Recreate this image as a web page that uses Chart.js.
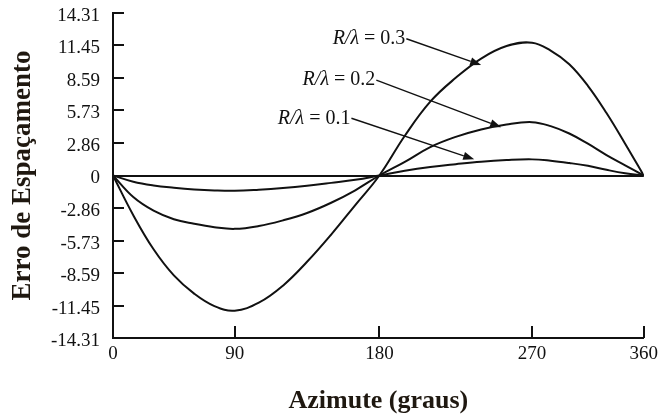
<!DOCTYPE html>
<html>
<head>
<meta charset="utf-8">
<script src="https://cdn.jsdelivr.net/npm/chart.js@4.4.1/dist/chart.umd.min.js"></script>
<style>
  html, body { margin: 0; padding: 0; background: #fff; }
  #wrap { width: 663px; height: 419px; }
</style>
</head>
<body>
<div id="wrap"><canvas id="errChart" width="663" height="419"></canvas></div>
<script>
// Azimuth samples (degrees) and spacing error
const azimuth = [0, 15, 30, 45, 60, 75, 90, 105, 120, 135, 150, 165, 180,
                 195, 210, 225, 240, 255, 270, 285, 300, 315, 330, 345, 360];
const errR03 = [0, -3.5, -6.5, -8.8, -10.4, -11.5, -11.9, -11.2, -9.7, -7.6, -5.2, -2.6, 0,
                3.5, 6.5, 8.6, 10.3, 11.4, 11.7, 11.0, 9.8, 7.9, 5.5, 2.8, 0];
const errR02 = [0, -1.9, -3.1, -3.85, -4.25, -4.55, -4.7, -4.45, -3.95, -3.3, -2.4, -1.3, 0,
                1.2, 2.5, 3.4, 4.05, 4.5, 4.7, 4.35, 3.7, 2.8, 1.8, 0.9, 0];
const errR01 = [0, -0.55, -0.88, -1.08, -1.23, -1.32, -1.35, -1.25, -1.1, -0.9, -0.65, -0.38, 0,
                0.42, 0.75, 1.0, 1.22, 1.36, 1.42, 1.3, 1.1, 0.85, 0.5, 0.2, 0];
const seriesNames = ['0.3', '0.2', '0.1'];

// Tick labels
const yTickLabels = ['-14.31', '-11.45', '-8.59', '-5.73', '-2.86', '0',
                     '2.86', '5.73', '8.59', '11.45', '14.31'];
const xTickLabels = ['0', '90', '180', '270', '360'];

// The scanned figure's x axis is not evenly spaced; where each tick sits (fraction of the axis)
const xTickFrac = [0, 0.2293, 0.5019, 0.7895, 1];

// Label / arrow placement, in data units: arrow start (end of text) and arrow tip
const callouts = [
    { from: [195.9, 12.04], to: [240, 9.73] },
    { from: [178.1, 8.4], to: [251.8, 4.25] },
    { from: [162.6, 5.04], to: [235.9, 1.42] }
];

const INK = '#111';
const TITLE_INK = '#1f1810';
const SERIF = '"Liberation Serif", "Times New Roman", serif';

const yTicks = yTickLabels.map(Number);
const xTicks = xTickLabels.map(Number);

// Linear scale with a piecewise mapping between the labelled ticks
class PiecewiseScale extends Chart.LinearScale {
    getPixelForValue(value) {
        if (value === null || isNaN(value)) return NaN;
        let i = 1;
        while (i < xTicks.length - 1 && value > xTicks[i]) i++;
        const v0 = xTicks[i - 1], v1 = xTicks[i];
        const f = xTickFrac[i - 1] + (value - v0) / (v1 - v0) * (xTickFrac[i] - xTickFrac[i - 1]);
        return this.getPixelForDecimal(f);
    }
    getValueForPixel(pixel) {
        const f = this.getDecimalForPixel(pixel);
        let i = 1;
        while (i < xTickFrac.length - 1 && f > xTickFrac[i]) i++;
        const f0 = xTickFrac[i - 1], f1 = xTickFrac[i];
        return xTicks[i - 1] + (f - f0) / (f1 - f0) * (xTicks[i] - xTicks[i - 1]);
    }
}
PiecewiseScale.id = 'piecewise';
PiecewiseScale.defaults = Chart.LinearScale.defaults;
Chart.register(PiecewiseScale);

function toPoints(values) {
    return azimuth.map((a, i) => ({ x: a, y: values[i] }));
}

// Inner tick marks, callout arrows and labels
const decorPlugin = {
    id: 'decor',
    afterDraw(chart) {
        const { ctx, chartArea, scales: { x, y } } = chart;
        ctx.save();
        ctx.strokeStyle = INK;
        ctx.lineWidth = 2;
        ctx.beginPath();
        yTicks.forEach(v => {
            const py = Math.round(y.getPixelForValue(v));
            ctx.moveTo(chartArea.left, py);
            ctx.lineTo(chartArea.left + 11, py);
        });
        xTicks.slice(1).forEach(v => {
            const px = Math.round(x.getPixelForValue(v));
            ctx.moveTo(px, chartArea.bottom);
            ctx.lineTo(px, chartArea.bottom - 12);
        });
        ctx.stroke();

        callouts.forEach((c, i) => {
            const x0 = x.getPixelForValue(c.from[0]), y0 = y.getPixelForValue(c.from[1]);
            const x1 = x.getPixelForValue(c.to[0]), y1 = y.getPixelForValue(c.to[1]);
            const ang = Math.atan2(y1 - y0, x1 - x0);
            const headLen = 11, headW = 4;
            const bx = x1 - headLen * Math.cos(ang), by = y1 - headLen * Math.sin(ang);

            ctx.lineWidth = 1.4;
            ctx.beginPath();
            ctx.moveTo(x0, y0);
            ctx.lineTo(bx, by);
            ctx.stroke();

            ctx.fillStyle = INK;
            ctx.beginPath();
            ctx.moveTo(x1, y1);
            ctx.lineTo(bx + headW * Math.sin(ang), by - headW * Math.cos(ang));
            ctx.lineTo(bx - headW * Math.sin(ang), by + headW * Math.cos(ang));
            ctx.closePath();
            ctx.fill();

            // "R/λ" in italics, then " = 0.x"
            ctx.textBaseline = 'middle';
            ctx.textAlign = 'left';
            const tail = ' = ' + seriesNames[i];
            ctx.font = '20px ' + SERIF;
            const tailW = ctx.measureText(tail).width;
            ctx.font = 'italic 20px ' + SERIF;
            const headTxtW = ctx.measureText('R/λ').width;
            const startX = x0 - 1 - tailW - headTxtW;
            ctx.fillText('R/λ', startX, y0);
            ctx.font = '20px ' + SERIF;
            ctx.fillText(tail, startX + headTxtW, y0);
        });
        ctx.restore();
    }
};

const lineStyle = {
    borderColor: INK,
    borderWidth: 2,
    pointRadius: 0,
    fill: false,
    tension: 0.4
};

new Chart(document.getElementById('errChart'), {
    type: 'line',
    data: {
        datasets: [
            Object.assign({ label: 'R/λ = 0.3', data: toPoints(errR03) }, lineStyle),
            Object.assign({ label: 'R/λ = 0.2', data: toPoints(errR02) }, lineStyle),
            Object.assign({ label: 'R/λ = 0.1', data: toPoints(errR01) }, lineStyle)
        ]
    },
    options: {
        responsive: false,
        animation: false,
        devicePixelRatio: 1,
        layout: {
            autoPadding: false,
            padding: { top: 13, right: 18, left: 0, bottom: 0 }
        },
        plugins: {
            legend: { display: false },
            tooltip: { enabled: false }
        },
        scales: {
            x: {
                type: 'piecewise',
                min: 0,
                max: 360,
                afterBuildTicks: s => { s.ticks = xTicks.map(v => ({ value: v })); },
                afterFit: s => { s.height = 81; },
                grid: { display: false, drawTicks: false },
                border: { display: true, color: INK, width: 2 },
                ticks: {
                    autoSkip: false,
                    maxRotation: 0,
                    padding: 5,
                    color: INK,
                    font: { family: SERIF, size: 19 },
                    callback: (v, i) => xTickLabels[i]
                },
                title: {
                    display: true,
                    text: 'Azimute (graus)',
                    color: TITLE_INK,
                    font: { family: SERIF, size: 26, weight: 'bold' },
                    padding: { top: 0, bottom: 2 }
                }
            },
            y: {
                type: 'linear',
                min: -14.31,
                max: 14.31,
                afterBuildTicks: s => { s.ticks = yTicks.map(v => ({ value: v })); },
                afterFit: s => {
                    s.width = 113;
                    // labels may hang over the ends; let layout.padding decide the top
                    s.paddingTop = 0;
                    s.paddingBottom = 0;
                },
                grid: {
                    drawTicks: false,
                    lineWidth: 2,
                    color: c => (c.tick && c.tick.value === 0 ? INK : 'rgba(0,0,0,0)')
                },
                border: { display: true, color: INK, width: 2 },
                ticks: {
                    padding: 13,
                    labelOffset: 3,
                    color: INK,
                    font: { family: SERIF, size: 19 },
                    callback: (v, i) => yTickLabels[i]
                },
                title: {
                    display: true,
                    text: 'Erro de Espaçamento',
                    color: TITLE_INK,
                    font: { family: SERIF, size: 27, weight: 'bold' },
                    padding: { top: 7, bottom: 0 }
                }
            }
        }
    },
    plugins: [decorPlugin]
});
</script>
</body>
</html>
